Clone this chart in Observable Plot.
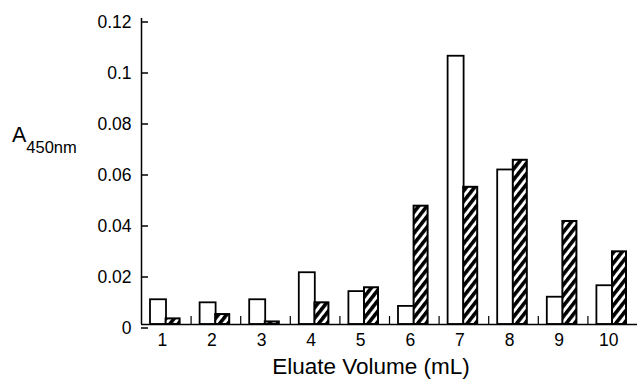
<!DOCTYPE html>
<html><head><meta charset="utf-8">
<script src="https://cdn.jsdelivr.net/npm/d3@7"></script>
<script src="https://cdn.jsdelivr.net/npm/@observablehq/plot@0.6"></script>
<style>body{margin:0;background:#fff} svg{display:block}</style>
</head><body><div id="chart"></div>
<script>
const volumes = [1, 2, 3, 4, 5, 6, 7, 8, 9, 10];
const xTickLabels = ["1", "2", "3", "4", "5", "6", "7", "8", "9", "10"];
const openValues = [0.0097, 0.0085, 0.0097, 0.0203, 0.0129, 0.0071, 0.1052, 0.0606, 0.0107, 0.0152];
const hatchedValues = [0.0022, 0.0039, 0.0010, 0.0085, 0.0144, 0.0464, 0.0538, 0.0644, 0.0404, 0.0285];
const yTicks = [0, 0.02, 0.04, 0.06, 0.08, 0.1, 0.12];
const yTickLabels = ["0", "0.02", "0.04", "0.06", "0.08", "0.1", "0.12"];
const xLabel = "Eluate Volume (mL)";
const yLabelMain = "A";
const yLabelSub = "450nm";

const openData = volumes.map((v, i) => ({vol: v, value: openValues[i]}));
const hatchedData = volumes.map((v, i) => ({vol: v, value: hatchedValues[i]}));
const boundaries = volumes.slice(0, -1).map(v => v + 0.5);

const defsMark = () => {
  const defs = d3.create("svg:defs");
  const p = defs.append("pattern").attr("id", "hatch")
    .attr("patternUnits", "userSpaceOnUse")
    .attr("width", 6.5).attr("height", 6.5)
    .attr("patternTransform", "rotate(38)");
  p.append("rect").attr("width", 6.5).attr("height", 6.5).attr("fill", "white");
  p.append("rect").attr("width", 3.6).attr("height", 6.5).attr("fill", "black");
  return defs.node();
};

const plot = Plot.plot({
  width: 637, height: 385,
  marginLeft: 141, marginTop: 18, marginBottom: 61, marginRight: 0,
  style: {fontFamily: "'Liberation Sans', Arial, sans-serif", fontSize: "17.5px", color: "#000", background: "#fff"},
  x: {type: "linear", domain: [0.5, 10.5]},
  y: {domain: [0, 0.12]},
  marks: [
    defsMark,
    Plot.rectY(openData, {x1: d => d.vol - 0.5, x2: d => d.vol + 0.5, y: "value", insetLeft: 9, insetRight: 24.6, fill: "white", stroke: "black", strokeWidth: 1.8}),
    Plot.rectY(hatchedData, {x1: d => d.vol - 0.5, x2: d => d.vol + 0.5, y: "value", insetLeft: 24.6, insetRight: 11, fill: "url(#hatch)", stroke: "black", strokeWidth: 2}),
    Plot.ruleY([0], {stroke: "black", strokeWidth: 1.5}),
    Plot.ruleX([0.5], {stroke: "black", strokeWidth: 1.5}),
    Plot.axisY({ticks: yTicks, tickFormat: d => yTickLabels[yTicks.indexOf(d)], tickSize: -7, tickPadding: 17, dy: 3.5, strokeWidth: 1.5, label: null}),
    Plot.axisX({ticks: boundaries, tickSize: -8, tickFormat: () => "", strokeWidth: 1.2, label: null}),
    Plot.axisX({ticks: volumes, tickSize: 0, tickPadding: 9, tickFormat: d => xTickLabels[volumes.indexOf(d)], dx: -4, label: null})
  ]
});

const svg = d3.select(plot);
svg.append("text").attr("x", 371).attr("y", 374).attr("text-anchor", "middle")
  .attr("font-size", 22.5).attr("fill", "black").text(xLabel);
const yl = svg.append("text").attr("x", 12).attr("y", 142).attr("text-anchor", "start")
  .attr("font-size", 21.5).attr("fill", "black");
yl.append("tspan").text(yLabelMain);
yl.append("tspan").attr("dy", 11).attr("font-size", 16.5).text(yLabelSub);

document.getElementById("chart").append(plot);
</script>
</body></html>
